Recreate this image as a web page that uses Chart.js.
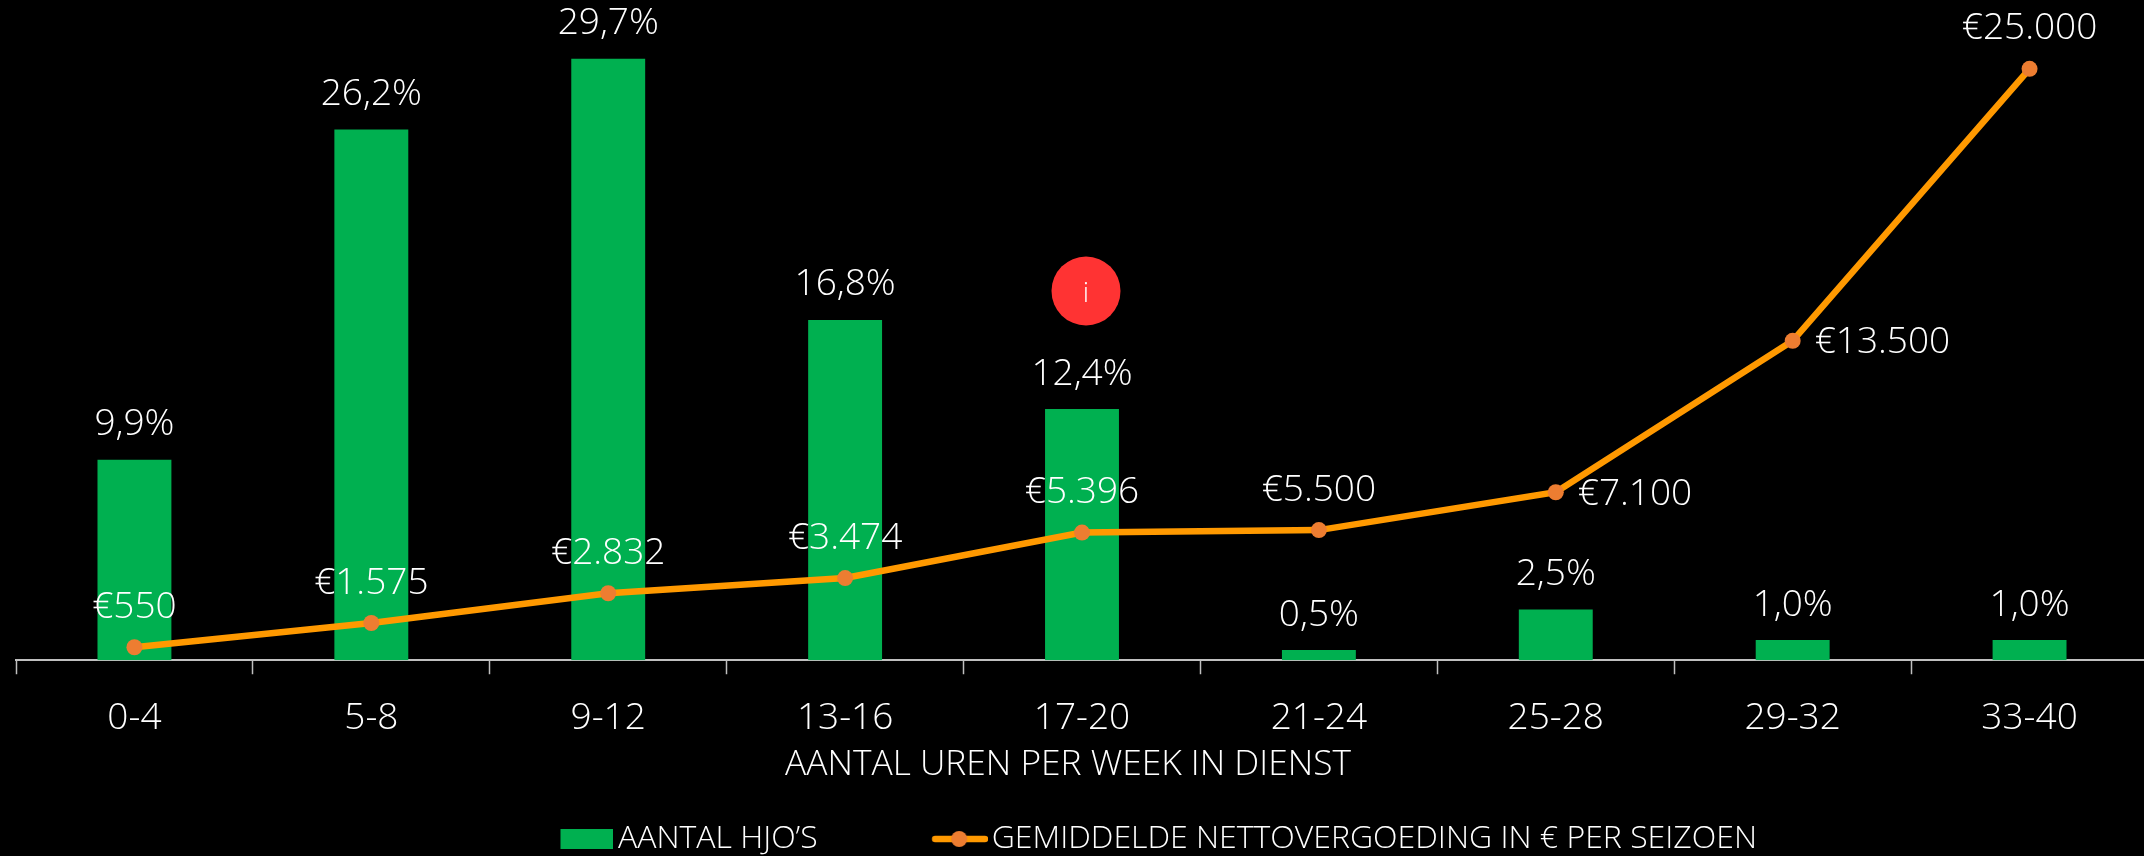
<!DOCTYPE html>
<html><head><meta charset="utf-8">
<style>html,body{margin:0;background:#000;overflow:hidden;width:2144px;height:856px}#w{width:2200px;height:856px;position:relative}</style>
<script src="https://cdn.jsdelivr.net/npm/chart.js@4"></script></head>
<body><div id="w"><canvas id="c" width="2200" height="856"></canvas></div>
<script>
const categories=['0-4','5-8','9-12','13-16','17-20','21-24','25-28','29-32','33-40'];
const shareValues=[9.9,26.2,29.7,16.8,12.4,0.5,2.5,1.0,1.0];
const shareLabels=['9,9%','26,2%','29,7%','16,8%','12,4%','0,5%','2,5%','1,0%','1,0%'];
const payValues=[550,1575,2832,3474,5396,5500,7100,13500,25000];
const payLabels=['€550','€1.575','€2.832','€3.474','€5.396','€5.500','€7.100','€13.500','€25.000'];
const payLabelSide=['top','top','top','top','top','top','right','right','top'];
const barName="AANTAL HJO’S";
const lineName='GEMIDDELDE NETTOVERGOEDING IN € PER SEIZOEN';
const axisTitle='AANTAL UREN PER WEEK IN DIENST';

const FONT='"Open Sans"';
const GREEN='#00B050',ORANGE='#FF9900',DOT='#ED7D31',TXT='#FFFFFF';

function swatchBar(){const c=document.createElement('canvas');c.width=60;c.height=20;const x=c.getContext('2d');x.fillStyle=GREEN;x.fillRect(8,0,52,20);return c;}
function swatchLine(){const c=document.createElement('canvas');c.width=64;c.height=20;const x=c.getContext('2d');x.lineCap='round';x.strokeStyle=ORANGE;x.lineWidth=6.5;x.beginPath();x.moveTo(11,10);x.lineTo(61,10);x.stroke();x.fillStyle=DOT;x.beginPath();x.arc(35,10,8,0,Math.PI*2);x.fill();return c;}

const overlay={id:'overlay',
 beforeLayout(ch){const l=ch.legend;if(!l._patched){const f=l.fit;l.fit=function(){f.call(this);this.height=0;};l._patched=true;}},
 afterLayout(ch){const l=ch.legend;const w=l.right-l.left;l.left=444;l.right=444+w;l.top=839-119-16;l.bottom=856;l.width=w;l.height=l.bottom-l.top;
   const s=ch.scales.x;if(!s._patched){const d=s.drawTitle;s.drawTitle=function(){const c=this.ctx;c.save();c.translate(-14,0);d.call(this);c.restore();};s._patched=true;}},
 afterDatasetsDraw(ch){const c=ch.ctx;c.save();c.fillStyle=TXT;c.font='300 37px '+FONT;c.textBaseline='middle';
   ch.getDatasetMeta(0).data.forEach((e,i)=>{c.textAlign='center';c.fillText(shareLabels[i],e.x,e.y-35);});
   ch.getDatasetMeta(1).data.forEach((e,i)=>{if(payLabelSide[i]==='right'){c.textAlign='left';c.fillText(payLabels[i],e.x+22,e.y+2);}else{c.textAlign='center';c.fillText(payLabels[i],e.x,e.y-40);}});
   const b=ch.getDatasetMeta(0).data[4];
   c.fillStyle='#FF3333';c.beginPath();c.arc(b.x+4,291,34.5,0,Math.PI*2);c.fill();
   c.fillStyle=TXT;c.font='300 28px '+FONT;c.textAlign='center';c.fillText('i',b.x+4,294);
   c.restore();}
};

new Chart(document.getElementById('c'),{
 data:{labels:categories,datasets:[
  {type:'bar',label:barName,data:shareValues,yAxisID:'y',backgroundColor:GREEN,barPercentage:1,categoryPercentage:0.312,order:2},
  {type:'line',label:lineName,data:payValues,yAxisID:'y1',borderColor:ORANGE,borderWidth:6.5,pointBackgroundColor:DOT,pointBorderColor:DOT,pointBorderWidth:0,pointRadius:8,tension:0,order:1}
 ]},
 options:{responsive:false,animation:false,devicePixelRatio:1,
  layout:{padding:{left:16,right:52,top:0,bottom:70}},
  plugins:{tooltip:{enabled:false},
   legend:{display:true,position:'bottom',align:'start',
    labels:{usePointStyle:true,pointStyleWidth:39,padding:119,color:TXT,font:{family:FONT,size:32,weight:'300'},
     generateLabels(){return [
       {text:barName,fontColor:TXT,pointStyle:swatchBar(),datasetIndex:0,lineWidth:0},
       {text:lineName,fontColor:TXT,pointStyle:swatchLine(),datasetIndex:1,lineWidth:0}];}}}},
  scales:{
   x:{offset:true,grid:{offset:true,drawOnChartArea:false,drawTicks:true,tickLength:14,tickColor:'#BFBFBF',tickWidth:1.5},
      border:{color:'#BFBFBF',width:2},
      ticks:{color:TXT,font:{family:FONT,size:37,weight:'300'},padding:22,maxRotation:0,autoSkip:false},
      title:{display:true,text:axisTitle,color:TXT,font:{family:FONT,size:35.3,weight:'300'},padding:{top:-19,bottom:0}}},
   y:{display:false,min:0,max:32.2,position:'left'},
   y1:{display:false,min:0,max:27570,position:'right'}
  }},
 plugins:[overlay]
});
</script></body></html>
